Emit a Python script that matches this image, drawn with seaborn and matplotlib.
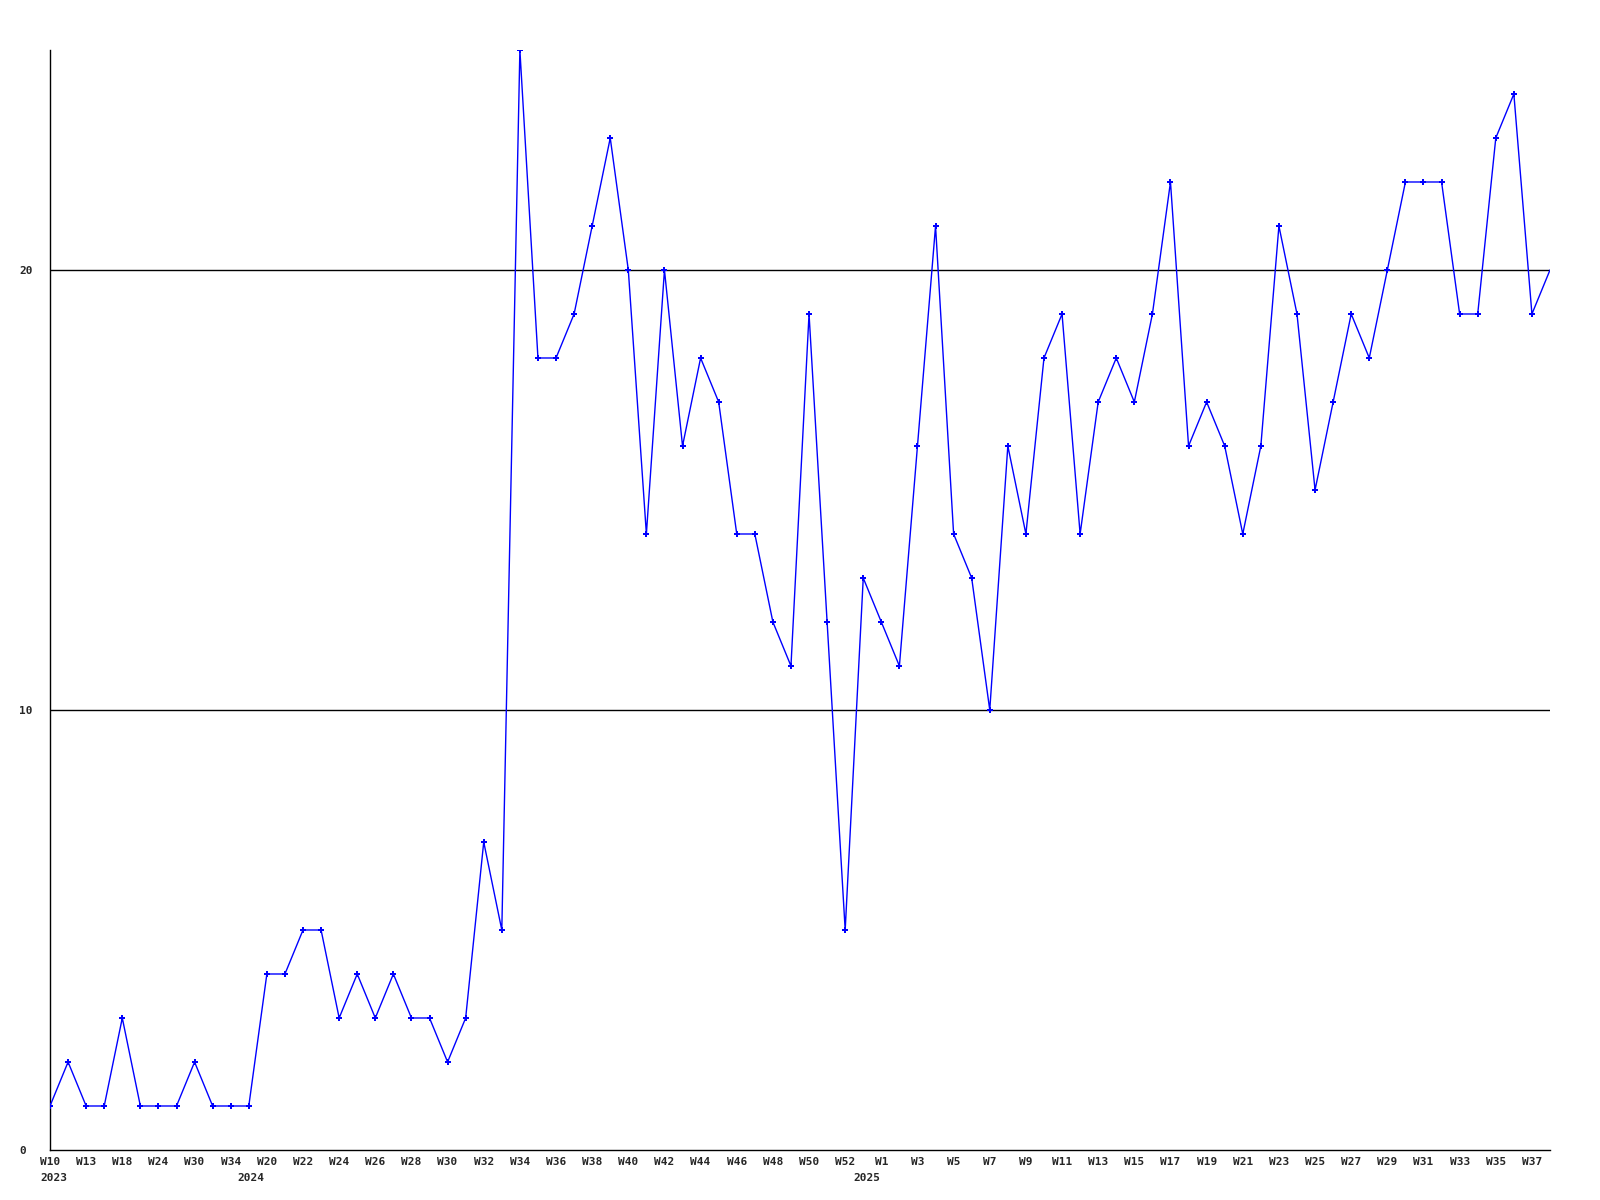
import numpy as np
import pandas as pd
import matplotlib.pyplot as plt
import seaborn as sns

# weekly counts, one per point
counts = [1, 2, 1, 1, 3, 1, 1, 1, 2, 1, 1, 1,
          4, 4, 5, 5, 3, 4, 3, 4, 3, 3, 2, 3, 7, 5,
          25, 18, 18, 19, 21, 23, 20, 14, 20, 16, 18, 17, 14, 14, 12, 11, 19, 12, 5,
          13, 12, 11, 16, 21, 14, 13, 10, 16, 14, 18, 19, 14, 17, 18, 17, 19, 22,
          16, 17, 16, 14, 16, 21, 19, 15, 17, 19, 18, 20, 22, 22, 22, 19, 19, 23, 24,
          19, 20]

# labels shown on every second point
week_labels = ["W10", "W13", "W18", "W24", "W30", "W34",
               "W20", "W22", "W24", "W26", "W28", "W30", "W32", "W34", "W36", "W38",
               "W40", "W42", "W44", "W46", "W48", "W50", "W52",
               "W1", "W3", "W5", "W7", "W9", "W11", "W13", "W15", "W17", "W19",
               "W21", "W23", "W25", "W27", "W29", "W31", "W33", "W35", "W37"]
years = ["2023", "2024", "2025"]
year_pos = [0.2, 11.1, 45.2]
y_ticks = [0, 10, 20]

df = pd.DataFrame({"i": np.arange(len(counts)), "n": counts})

sns.set_style("white")
plt.rcParams["font.family"] = ["DejaVu Sans Mono"]

fig = plt.figure(figsize=(16, 12), dpi=100)
ax = fig.add_axes([0.03125, 0.04167, 0.9375, 0.91667])

for v in y_ticks[1:]:
    ax.axhline(v, color="black", lw=1.0, zorder=1)

sns.lineplot(data=df, x="i", y="n", ax=ax, color="#0000ff", lw=1.0,
             marker="P", markersize=5, markeredgewidth=0,
             markevery=list(range(len(counts) - 1)), zorder=3)

ax.set_xlim(0, len(counts) - 1)
ax.set_ylim(0, 25)
ax.set_xticks(np.arange(0, 2 * len(week_labels), 2))
ax.set_xticklabels(week_labels, fontsize=8, fontweight="bold")
ax.set_yticks(y_ticks)
ax.set_yticklabels([str(v) for v in y_ticks], fontsize=8, fontweight="bold", ha="left")
ax.tick_params(axis="y", length=0, pad=22)
ax.tick_params(axis="x", length=0, pad=5)
ax.set_xlabel("")
ax.set_ylabel("")

for s in ["top", "right"]:
    ax.spines[s].set_visible(False)
for s in ["left", "bottom"]:
    ax.spines[s].set_color("black")
    ax.spines[s].set_linewidth(1.0)

for yr, p in zip(years, year_pos):
    ax.text(p, -0.53, yr, ha="center", va="top", fontsize=8, fontweight="bold")

fig.savefig("out.png", dpi=100)
